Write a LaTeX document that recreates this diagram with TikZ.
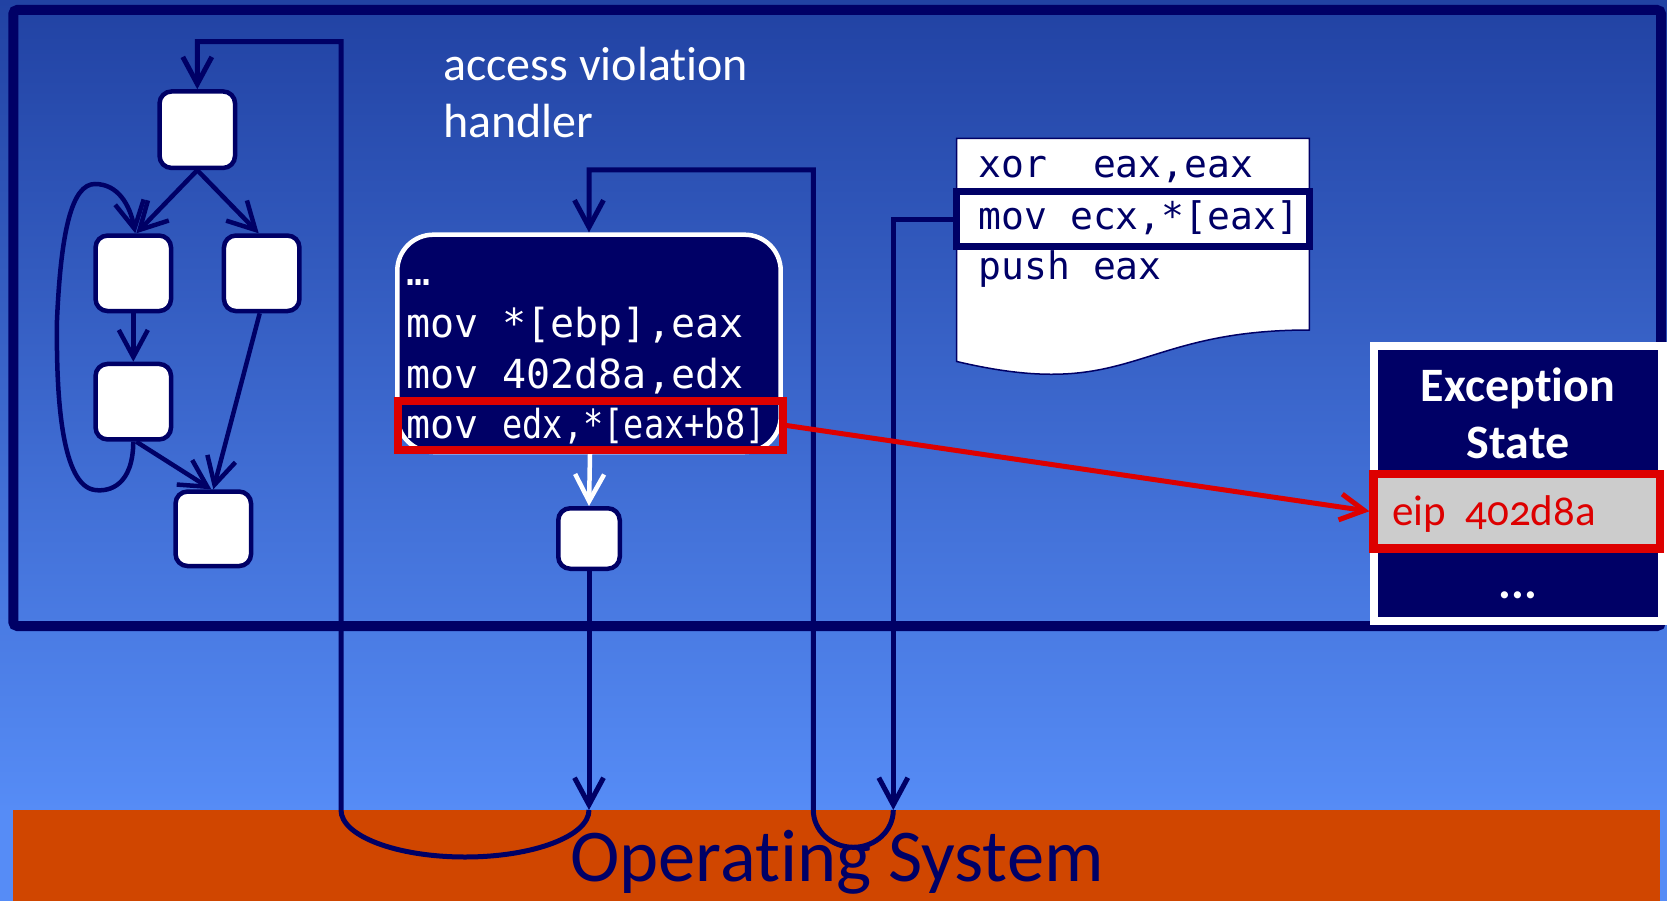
\documentclass[tikz,border=0pt]{standalone}
\usepackage{fontspec}
\usepackage{graphicx}
\setmainfont{Carlito}[Ligatures=NoCommon]
\newfontfamily\codefont{DejaVu Sans Mono}
\newfontfamily\statefont[Numbers=OldStyle,Ligatures=NoCommon]{Carlito}
\usetikzlibrary{arrows.meta}

\definecolor{navy}{RGB}{0,0,102}
\definecolor{osorange}{RGB}{208,70,0}
\definecolor{hired}{RGB}{221,0,0}
\definecolor{bgtop}{RGB}{33,66,163}
\definecolor{bgbot}{RGB}{86,140,246}
\definecolor{stategray}{RGB}{204,204,204}

\begin{document}
\begin{tikzpicture}[x=1pt,y=-1pt,
  tip/.tip={Straight Barb[length=27pt,width=29pt]},
  blk/.style={draw=navy, fill=white, line width=4.5pt, rounded corners=12pt,
    inner sep=0pt, minimum width=75.5pt, minimum height=75.5pt},
  flow/.style={navy, line width=4.5pt, -tip},
  link/.style={navy, line width=5pt},
  code/.style={inner sep=0pt, anchor=base west,
    font=\codefont\fontsize{40}{48}\selectfont},
  doccode/.style={inner sep=0pt, anchor=base west, text=navy,
    font=\codefont\fontsize{38}{46}\selectfont},
  title/.style={inner sep=0pt, text=white,
    font=\fontsize{48}{57}\selectfont},
]
% backdrop
\useasboundingbox (0,0) rectangle (1667,901);
\shade[top color=bgtop, bottom color=bgbot] (0,0) rectangle (1667,810);
\fill[bgbot] (0,809) rectangle (1667,901);

% operating system band
\node[fill=osorange, inner sep=0pt, minimum width=1647.3pt, minimum height=91pt]
  (os) at (836.35,855.5) {};

% program frame
\draw[navy, line width=10pt, rounded corners=4pt] (13.3,10) rectangle (1661,626);

% control flow graph
\node[blk, minimum height=76.5pt] (A) at (197.3,129.7) {};
\node[blk] (B) at (133.3,273.3) {};
\node[blk] (C) at (261.7,273.3) {};
\node[blk] (D) at (133.3,401.7) {};
\node[blk, minimum height=74.5pt] (E) at (213.3,528.8) {};

\draw[flow] (A.south) -- ([xshift=3pt]B.north);
\draw[flow] (A.south) -- ([xshift=-3pt]C.north);
\draw[flow] (B.south) -- (D.north);
\draw[flow] ([xshift=3pt]D.south) -- ([xshift=-2pt]E.north);
\draw[flow] ([xshift=-2pt]C.south) -- (E.north);
\draw[flow] (D.south) .. controls (133,485) and (110,492) .. (95,490)
  .. controls (62,486) and (56,400) .. (57,320)
  .. controls (61,230) and (72,184) .. (95,184)
  .. controls (118,184) and (130,205) .. ([xshift=2pt]B.north);

% handler block
\node[draw=white, fill=navy, line width=4.5pt, rounded corners=36pt, inner sep=0pt,
  minimum width=383.4pt, minimum height=217.3pt] (H) at (589,343.35) {};
\node[code, text=white] (h0) at (406,285) {…};
\node[code, text=white] (h1) at (406,337) {mov *[ebp],eax};
\node[code, text=white] (h2) at (406,388) {mov 402d8a,edx};
\node[code, text=white] (h3) at (406,438) {mov \scalebox{0.84}[1]{edx,*[eax+b8]}};
\node[draw=hired, line width=8pt, inner sep=0pt,
  minimum width=385pt, minimum height=49.4pt] (hr) at (590,425.5) {};

\node[title, anchor=base west] (av1) at (443,81) {access violation};
\node[title, anchor=base west] (av2) at (443,138) {handler};

% block after the faulting instruction
\node[blk, minimum width=61.5pt, minimum height=60.5pt] (sb) at (589,538.5) {};
\draw[white, line width=4.5pt, -tip] (hr.south) -- (sb.north);

% faulting code listing
\draw[fill=white, draw=navy, line width=1.5pt]
  (956.7,138.3) -- (1309.3,138.3) -- (1309.3,330)
  .. controls (1133,330) and (1133,403) .. (956.7,361.5) -- cycle;
\node[draw=navy, fill=white, line width=6.7pt, inner sep=0pt,
  minimum width=352.6pt, minimum height=55pt] (hl) at (1133,219.2) {};
\node[doccode] (d1) at (978.5,177.3) {xor\ \ eax,eax};
\node[doccode] (d2) at (978.5,229.3) {mov ecx,*[eax]};
\node[doccode] (d3) at (978.5,279.3) {push eax};

% connectors through the operating system
\coordinate (k1) at (341,810);
\coordinate (k2) at (589,810);
\coordinate (k3) at (893.3,810);
\coordinate (k4) at (813.3,810);
\coordinate (t1) at (341,41.7);
\coordinate (t2) at (197.3,41.7);
\coordinate (t3) at (813.3,170);
\coordinate (t4) at (589,170);

\draw[link, -tip] (sb.south) -- (k2);
\draw[link, -tip] (k2) arc[start angle=0, end angle=-180, x radius=124pt, y radius=47pt]
  -- (t1) -- (t2) -- (A.north);
\draw[link, -tip] (hl.west) -| (k3);
\draw[link, -tip] (k3) arc[start angle=0, end angle=-180, x radius=40pt, y radius=37.3pt]
  -- (t3) -- (t4) -- (H.north);

% exception state
\node[draw=white, fill=navy, line width=8.5pt, inner sep=0pt,
  minimum width=288.5pt, minimum height=275pt] (ex) at (1518.25,483.5) {};
\node[title, anchor=base, font=\bfseries\fontsize{48}{57}\selectfont] (ex1) at (1518,401) {Exception};
\node[title, anchor=base, font=\bfseries\fontsize{48}{57}\selectfont] (ex2) at (1518,458.3) {State};
\node[draw=hired, fill=stategray, line width=8.3pt, inner sep=0pt,
  minimum width=286.5pt, minimum height=74.5pt] (er) at (1516.75,511.25) {};
\node[inner sep=0pt, anchor=base west, text=hired,
  font=\statefont\fontsize{43}{50}\selectfont] (eip) at (1392,525) {eip\ \ 402d8a};
\node[title, anchor=base, font=\bfseries\fontsize{48}{57}\selectfont] (ex3) at (1518,598) {...};

\draw[hired, line width=5pt, -{Straight Barb[length=24pt,width=26pt]}] (hr.east) -- (er.west);

% operating system label
\node[inner sep=0pt, anchor=base west, text=navy,
  font=\fontsize{74.5}{80}\selectfont] (osl) at (570,881.7) {Operating System};
\end{tikzpicture}
\end{document}
